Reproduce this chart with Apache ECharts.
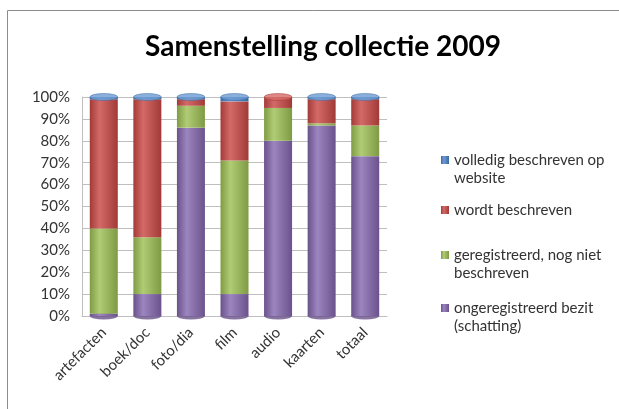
<!DOCTYPE html>
<html><head><meta charset="utf-8">
<script src="https://cdn.jsdelivr.net/npm/echarts@6/dist/echarts.min.js"></script>
<style>html,body{margin:0;padding:0;background:#fff}#c{width:619px;height:409px}</style>
</head><body><div id="c"></div>
<script>
var categories = ['artefacten','boek/doc','foto/dia','film','audio','kaarten','totaal'];
var ongeregistreerd = [1, 10, 86, 10, 80, 87, 73];
var geregistreerd = [39, 26, 10, 61, 15, 1, 14];
var wordt = [59, 63, 3, 27, 5, 11, 12];
var volledig = [1, 1, 1, 2, 0, 1, 1];
var yTicks = [0,10,20,30,40,50,60,70,80,90,100];

var names = ['ongeregistreerd bezit (schatting)','geregistreerd, nog niet beschreven','wordt beschreven','volledig beschreven op website'];
var legendText = {
  'volledig beschreven op website':'volledig beschreven op\nwebsite',
  'wordt beschreven':'wordt beschreven',
  'geregistreerd, nog niet beschreven':'geregistreerd, nog niet\nbeschreven',
  'ongeregistreerd bezit (schatting)':'ongeregistreerd bezit\n(schatting)'
};
var colors = ['#8064a2','#9bbb59','#c0504d','#4f81bd'];
var grads = [
  ['#6a518a','#9c86bf','#6b528c'],
  ['#7f9c45','#b0cc74','#7e9a44'],
  ['#a23b38','#d46a67','#a13a37'],
  ['#3a6aa3','#6d9bd2','#3a69a1']
];
var seriesData = [ongeregistreerd, geregistreerd, wordt, volledig];
function grad(i){
  return {type:'linear',x:0,y:0,x2:1,y2:0,colorStops:[
    {offset:0,color:grads[i][0]},{offset:0.35,color:grads[i][1]},{offset:1,color:grads[i][2]}]};
}
var series = seriesData.map(function(d,i){
  return {name:names[i], type:'bar', stack:'s', barWidth:28, data:d,
    itemStyle:{color:grad(i)}, emphasis:{disabled:true}};
});
var ellipse = 'path://M0,50 A50,50 0 1,1 100,50 A50,50 0 1,1 0,50 Z';
var capData = categories.map(function(c,k){
  var top = 0;
  for (var i=0;i<seriesData.length;i++){ if (seriesData[i][k]>0) top=i; }
  return {value:100, itemStyle:{color:grads[top][1], borderColor:grads[top][0], borderWidth:0.5}};
});
series.push({type:'scatter', name:'cap', data:capData, symbol:ellipse,
  symbolSize:[28,7], symbolKeepAspect:false, z:5, silent:true});
var botData = categories.map(function(c,k){
  var b = 0; for (var i=0;i<seriesData.length;i++){ if (seriesData[i][k]>0){b=i;break;} }
  return {value:0, itemStyle:{color:grads[b][0]}};
});
series.push({type:'scatter', name:'bot', data:botData, symbol:ellipse,
  symbolSize:[28,7], symbolKeepAspect:false, z:1, silent:true});

var legendTops = [146, 196, 241, 294];
var legendOrder = [3,2,1,0];
var LH = 18;
var legends = legendOrder.map(function(si,j){
  var two = legendText[names[si]].indexOf('\n')>=0;
  return {data:[names[si]], left:436, top:legendTops[j], orient:'vertical',
    itemWidth:8, itemHeight: two ? 2*LH : 8,
    icon: two ? 'path://M0,0L0,0M0,5h8v8h-8zM0,36L0,36' : 'rect',
    selectedMode:false,
    formatter:function(n){return legendText[n];},
    textStyle:{fontFamily:'Lato', fontSize:15, color:'#333', lineHeight:LH}};
});

var chart = echarts.init(document.getElementById('c'));
chart.setOption({
  animation:false,
  color:colors,
  title:{text:'Samenstelling collectie 2009', left:318, textAlign:'center', top:28,
    textStyle:{fontFamily:'Lato', fontSize:28, fontWeight:'bold', color:'#000'}},
  legend:legends,
  graphic:[{type:'rect', shape:{x:7.5,y:10.5,width:700,height:500}, style:{fill:'none', stroke:'#8c8c8c', lineWidth:1}, silent:true}],
  grid:{left:82, right:232, top:97, bottom:93},
  xAxis:{type:'category', data:categories,
    axisLine:{lineStyle:{color:'#bfbfbf'}}, axisTick:{show:false},
    axisLabel:{rotate:45, interval:0, fontFamily:'Lato', fontSize:15, color:'#333', margin:14}},
  yAxis:{type:'value', min:0, max:100, interval:10,
    axisLine:{show:true, lineStyle:{color:'#bfbfbf'}}, axisTick:{show:false},
    splitLine:{lineStyle:{color:'#bfbfbf'}},
    axisLabel:{formatter:function(v){return v+'%';}, fontFamily:'Lato', fontSize:15, color:'#333', margin:12}},
  series:series
});
</script></body></html>
